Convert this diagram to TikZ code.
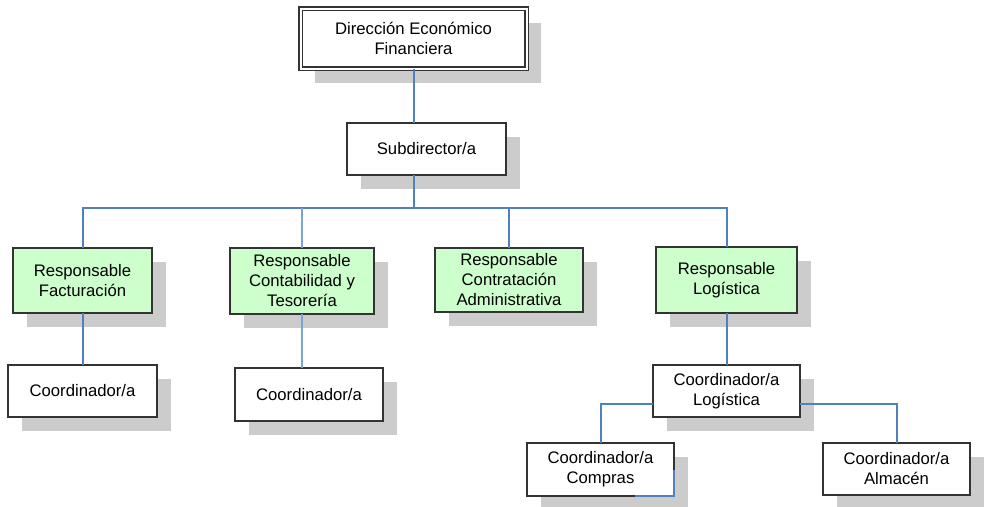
\documentclass[tikz,border=0pt]{standalone}
\usepackage{fontspec}
\setmainfont{Liberation Sans}

\definecolor{boxline}{RGB}{51,51,51}
\definecolor{greenfill}{RGB}{204,255,204}
\definecolor{shadegray}{RGB}{204,204,204}
\definecolor{linkblue}{RGB}{79,129,189}
\definecolor{linklight}{RGB}{125,162,214}

\pgfdeclarelayer{shade}
\pgfsetlayers{shade,main}

\tikzset{
  unit/.style={draw=boxline, line width=1.4pt, fill=white, align=center,
    inner sep=0pt, outer sep=0pt, text=black,
    font=\fontsize{16.7}{20}\selectfont},
  head/.style={unit, double=white, double distance=2pt, line width=1.2pt},
  resp/.style={unit, fill=greenfill},
  link/.style={draw=linkblue, line width=2pt},
  thinlink/.style={draw=linklight, line width=1.4pt},
}

\begin{document}
\begin{tikzpicture}[x=1pt, y=-1pt]
\useasboundingbox (0,0) rectangle (984,506);

% top management
\node[head, minimum width=226pt, minimum height=60pt] (dir) at (413.5,38.5)
  {Dirección Económico\\Financiera};
\node[unit, minimum width=159pt, minimum height=52pt] (sub) at (426.5,149)
  {Subdirector/a};

% area heads
\node[resp, minimum width=139pt, minimum height=65pt] (fact) at (82.5,280.5)
  {Responsable\\Facturación};
\node[resp, minimum width=144pt, minimum height=66pt] (cont) at (302,281)
  {Responsable\\Contabilidad y\\Tesorería};
\node[resp, minimum width=148pt, minimum height=64pt] (contr) at (509,280)
  {Responsable\\Contratación\\Administrativa};
\node[resp, minimum width=141pt, minimum height=66pt] (logi) at (726.5,280)
  {Responsable\\Logística};

% coordinators
\node[unit, minimum width=149pt, minimum height=52pt] (c1) at (82.5,391)
  {Coordinador/a};
\node[unit, minimum width=148pt, minimum height=53pt] (c2) at (309,394.5)
  {Coordinador/a};
\node[unit, minimum width=147pt, minimum height=52pt] (clog) at (726.5,391)
  {Coordinador/a\\Logística};
\node[unit, minimum width=147pt, minimum height=53pt] (comp) at (600.5,469.5)
  {Coordinador/a\\Compras};
\node[unit, minimum width=147pt, minimum height=52pt] (alm) at (896.5,469)
  {Coordinador/a\\Almacén};

% flat drop shadows behind every box
\begin{pgfonlayer}{shade}
  \foreach \n in {dir,sub,fact,cont,contr,logi,c1,c2,clog,comp,alm}
    \fill[shadegray] ([shift={(14pt,-14pt)}]\n.south west)
                     rectangle ([shift={(14pt,-14pt)}]\n.north east);
\end{pgfonlayer}

% connectors
\coordinate (bus) at (413.5,208);
\coordinate (cmpend) at (635,496);

\draw[link] (dir.south) -- (dir.south |- sub.north);
\draw[link] (dir.south |- sub.south) -- (bus);
\draw[link] (fact.north) |- (bus) -| (logi.north);
\draw[thinlink] (cont.north) -- (cont.north |- bus);
\draw[link] (contr.north) -- (contr.north |- bus);

\draw[link] (fact.south) -- (c1.north);
\draw[thinlink] (cont.south) -- (cont.south |- c2.north);
\draw[link] (logi.south) -- (clog.north);
\draw[link] ([yshift=-13pt]clog.west) -| (comp.north);
\draw[link] ([yshift=-13pt]clog.east) -| (alm.north);
\draw[link] (comp.east) -- (comp.south east) -- (cmpend);
\end{tikzpicture}
\end{document}
